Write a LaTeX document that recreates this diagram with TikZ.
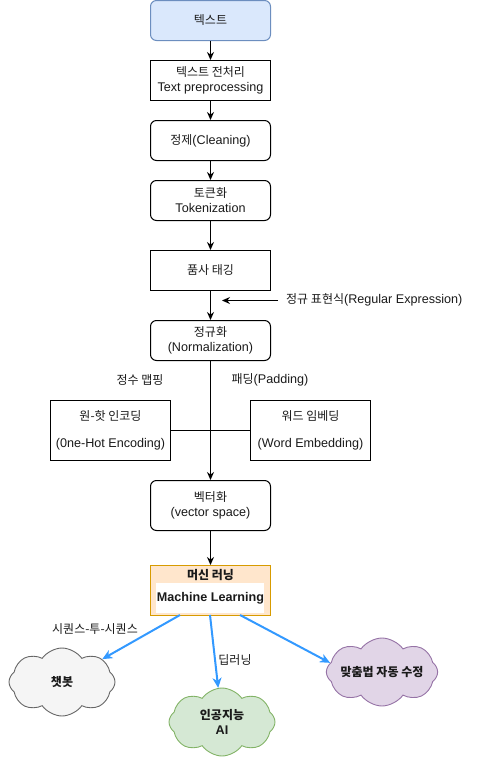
\documentclass[tikz,border=0pt]{standalone}
\usepackage{fontspec}
\setmainfont{Liberation Sans}[Scale=1.05]
\newfontfamily\krf{Noto Sans CJK KR}
\newcommand\K[1]{{\krf #1}}
\usetikzlibrary{arrows.meta,shapes.symbols}
\definecolor{blueF}{HTML}{DAE8FC}
\definecolor{blueD}{HTML}{6C8EBF}
\definecolor{oraF}{HTML}{FFE6CC}
\definecolor{oraD}{HTML}{D79B00}
\definecolor{grayF}{HTML}{F5F5F5}
\definecolor{grayD}{HTML}{666666}
\definecolor{greenF}{HTML}{D5E8D4}
\definecolor{greenD}{HTML}{82B366}
\definecolor{purF}{HTML}{E1D5E7}
\definecolor{purD}{HTML}{9673A6}
\definecolor{arrBlue}{HTML}{3399FF}
\definecolor{txt}{HTML}{1A1A1A}
\begin{document}
\begin{tikzpicture}[x=1pt,y=-1pt,
  font=\fontsize{12}{15}\selectfont,
  sbox/.style={draw=black, line width=1pt, fill=white, minimum width=120pt, minimum height=40pt, align=center, inner sep=1pt, text=txt},
  rbox/.style={sbox, rounded corners=6pt},
  flow/.style={-{Stealth[length=8pt,width=7pt]}, line width=1pt},
  blueflow/.style={-{Stealth[length=10pt,width=9pt,inset=3pt]}, draw=arrBlue, line width=2pt},
  lbl/.style={text=txt, inner sep=0pt},
  cloudnode/.style={cloud, cloud puffs=8, cloud puff arc=110, cloud ignores aspect, line width=0.9pt, minimum width=106pt, minimum height=68pt, align=center, font=\fontsize{12}{15}\selectfont\bfseries, text=txt, inner sep=0pt}
]
\useasboundingbox (0,0) rectangle (481,761);

\node[rbox, fill=blueF, draw=blueD] (t0) at (210.5,20.5) {\K{텍스트}};
\node[sbox] (t1) at (210.5,80.5) {\K{텍스트 전처리}\\Text preprocessing};
\node[rbox] (t2) at (210.5,140.5) {\K{정제}(Cleaning)};
\node[rbox] (t3) at (210.5,200.5) {\K{토큰화}\\Tokenization};
\node[sbox] (t4) at (210.5,270.5) {\K{품사 태깅}};
\node[rbox] (t5) at (210.5,340.5) {\K{정규화}\\(Normalization)};
\node[sbox, minimum height=60pt] (oh) at (110.5,430.5) {\K{원-핫 인코딩}\\[12pt](0ne-Hot Encoding)};
\node[sbox, minimum height=60pt] (we) at (310.5,430.5) {\K{워드 임베딩}\\[12pt](Word Embedding)};
\node[rbox, minimum height=50pt] (t6) at (210.5,505.5) {\K{벡터화}\\(vector space)};

\node[draw=oraD, fill=oraF, line width=1pt, minimum width=120pt, minimum height=50pt, inner sep=0pt] (ml) at (210.5,590.5) {};
\fill[white] (156,583) rectangle (264,613);
\node[lbl, font=\fontsize{12}{15}\selectfont\bfseries] (mlk) at (210.5,575) {\K{머신 러닝}};
\node[lbl, font=\fontsize{12}{15}\selectfont\bfseries] (mle) at (210.5,598) {Machine Learning};

\draw[flow] (t0) -- (t1);
\draw[flow] (t1) -- (t2);
\draw[flow] (t2) -- (t3);
\draw[flow] (t3) -- (t4);
\draw[flow] (t4) -- (t5);
\draw[flow] (t5) -- (t6);
\draw[flow] (t6) -- (ml);
\draw[line width=1pt] (oh) -- (we);

\coordinate (reS) at (278,300.5);
\coordinate (reE) at (222,300.5);
\draw[flow] (reS) -- (reE);
\node[lbl, anchor=west] (relbl) at (286,300) {\K{정규 표현식}(Regular Expression)};
\node[lbl] (map) at (140,380) {\K{정수 맵핑}};
\node[lbl] (pad) at (270,380) {\K{패딩}(Padding)};

\node[cloudnode, fill=grayF, draw=grayD] (chat) at (62,682) {\K{챗봇}};
\node[cloudnode, fill=greenF, draw=greenD] (ai) at (222,722) {\K{인공지능}\\AI};
\node[cloudnode, fill=purF, draw=purD] (sp) at (382,672) {\K{맞춤법 자동 수정}};

\coordinate (m1) at (180,615);
\coordinate (m2) at (210,615);
\coordinate (m3) at (240,615);
\draw[blueflow] (m1) -- (chat);
\draw[blueflow] (m2) -- (ai);
\draw[blueflow] (m3) -- (sp.170);
\node[lbl] (s2s) at (95,629) {\K{시퀀스-투-시퀀스}};
\node[lbl] (dl) at (235,660) {\K{딥러닝}};
\end{tikzpicture}
\end{document}
